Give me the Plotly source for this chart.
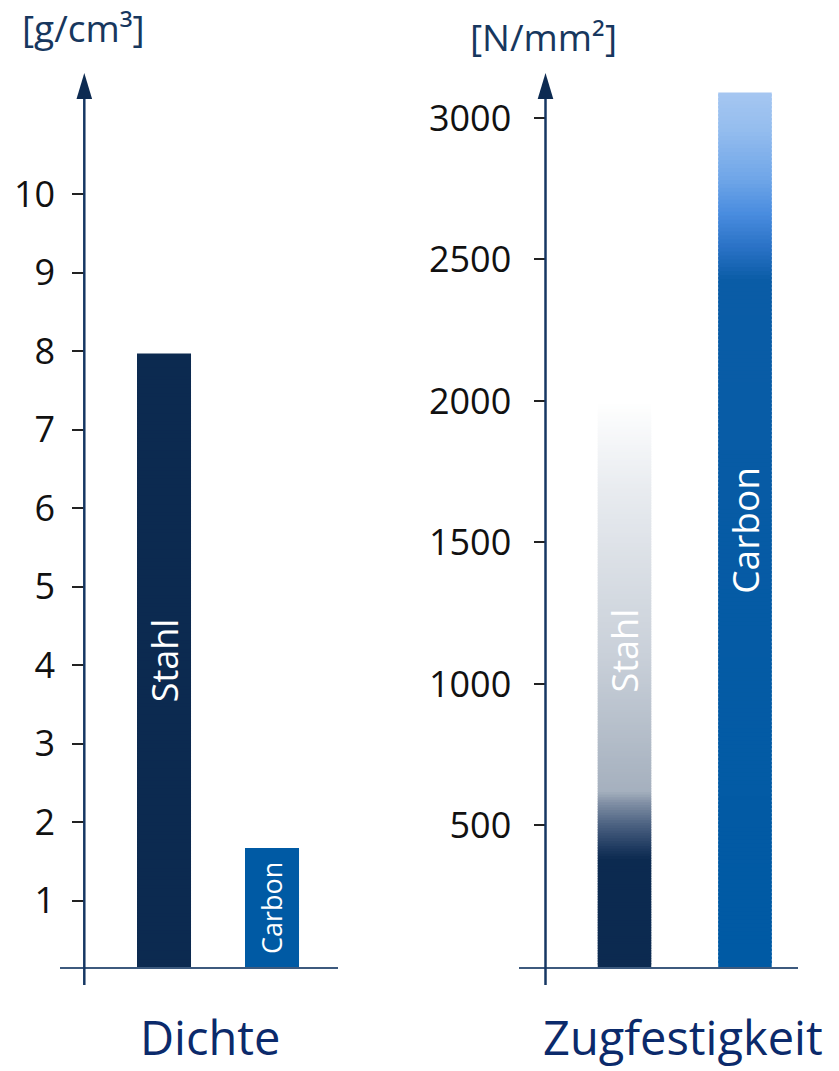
import plotly.graph_objects as go

W, H = 839, 1071

# ---- data ----
materials = ["Stahl", "Carbon"]
dichte_values = [7.97, 1.66]            # g/cm³
zug_values = [2000, 3090]               # N/mm²
dichte_ticks = [1, 2, 3, 4, 5, 6, 7, 8, 9, 10]
zug_ticks = [500, 1000, 1500, 2000, 2500, 3000]
unit_left = "[g/cm³]"
unit_right = "[N/mm²]"
title_left = "Dichte"
title_right = "Zugfestigkeit"

# ---- styles ----
NAVY = "#0c2a50"
BLUE = "#005aa4"
AXIS = "#163763"
FONT = "Open Sans"

# gradient stops (fraction of bar height, colour)
grad_left = [[(0, NAVY), (1, NAVY)], [(0, BLUE), (1, BLUE)]]
grad_right = [
    [(0.0, NAVY), (0.19, NAVY), (0.21, "#1e3a60"), (0.25, "#4a6080"),
     (0.29, "#8190a5"), (0.31, "#a5b0be"), (0.55, "#c9d0d9"),
     (0.85, "#e9ecf0"), (1.0, "#ffffff")],
    [(0.0, BLUE), (0.785, "#0a5ca6"), (0.823, "#2a72c6"), (0.862, "#4a8ddf"),
     (0.90, "#6ea5e8"), (0.957, "#94bdee"), (1.0, "#a6c7f1")],
]


def hex2rgb(h):
    h = h.lstrip("#")
    return tuple(int(h[i:i + 2], 16) for i in (0, 2, 4))


def color_at(stops, f):
    for (f0, c0), (f1, c1) in zip(stops[:-1], stops[1:]):
        if f0 <= f <= f1:
            t = 0 if f1 == f0 else (f - f0) / (f1 - f0)
            a, b = hex2rgb(c0), hex2rgb(c1)
            r = [round(a[i] + (b[i] - a[i]) * t) for i in range(3)]
            return "rgb(%d,%d,%d)" % tuple(r)
    return stops[-1][1]


def gradient_bar(cat, value, stops, width, xa, ya, n=220):
    step = value / n
    bases, heights, cols = [], [], []
    for i in range(n):
        b = i * step
        bases.append(b)
        heights.append(min(step * 1.6, value - b))
        cols.append(color_at(stops, (i + 0.5) / n))
    return go.Bar(x=[cat] * n, y=heights, base=bases, width=width,
                  marker=dict(color=cols, line=dict(width=0)),
                  xaxis=xa, yaxis=ya, showlegend=False, hoverinfo="skip")


fig = go.Figure()
for cat, v, st in zip(materials, dichte_values, grad_left):
    fig.add_trace(gradient_bar(cat, v, st, 0.5, "x", "y"))
for cat, v, st in zip(materials, zug_values, grad_right):
    fig.add_trace(gradient_bar(cat, v, st, 0.444, "x2", "y2"))

py = lambda p: 1 - p / H
px = lambda p: p / W

ydom = [py(967), py(80)]
left_range = [(979.2 - 967) / 78.5, (979.2 - 80) / 78.5]
right_range = [0, (967 - 80) / 0.28302]

tickfont = dict(family=FONT, size=36, color="#111111")
common_x = dict(type="category", showgrid=False, zeroline=False, showticklabels=False,
                ticks="", showline=True, linecolor="#3d5a7e", linewidth=2, fixedrange=True)
common_y = dict(showgrid=False, zeroline=False, showline=False, ticks="outside",
                ticklen=12, tickwidth=1.6, tickcolor="#222222", tickfont=tickfont,
                anchor="free", fixedrange=True)

fig.update_layout(
    width=W, height=H, margin=dict(l=0, r=0, t=0, b=0),
    paper_bgcolor="white", plot_bgcolor="white", barmode="overlay",
    showlegend=False, font=dict(family=FONT),
    xaxis=dict(domain=[px(60), px(338)], range=[-0.963, 1.611], anchor="y",
               categoryorder="array", categoryarray=materials, **common_x),
    xaxis2=dict(domain=[px(519), px(798)], range=[-0.8755, 1.440], anchor="y2",
                categoryorder="array", categoryarray=materials, **common_x),
    yaxis=dict(domain=ydom, range=left_range, position=px(84.3), ticklabelstandoff=10,
               tickvals=dichte_ticks, ticktext=[str(t) for t in dichte_ticks], **common_y),
    yaxis2=dict(domain=ydom, range=right_range, position=px(545.5), ticklabelstandoff=15,
                tickvals=zug_ticks, ticktext=[str(t) for t in zug_ticks], **common_y),
)

# axis lines with arrowheads
shapes = []
for ax_x in (84.3, 545.5):
    shapes.append(dict(type="line", xref="paper", yref="paper",
                       x0=px(ax_x), x1=px(ax_x), y0=py(985), y1=py(96),
                       line=dict(color=AXIS, width=2.5)))
    shapes.append(dict(type="path", xref="paper", yref="paper",
                       path="M %f,%f L %f,%f L %f,%f Z" % (px(ax_x - 7.8), py(99), px(ax_x), py(73),
                                                         px(ax_x + 7.8), py(99)),
                       fillcolor="#0d2b52", line=dict(width=0)))
fig.update_layout(shapes=shapes)

ann = []
# labels inside bars
label_pos_left = [0.5, 0.5]
label_pos_right = [0.56, 0.5]
label_size_left = [36, 27]
label_size_right = [36, 37]
for cat, v, f, s in zip(materials, dichte_values, label_pos_left, label_size_left):
    lo = left_range[0]
    ann.append(dict(x=cat, y=lo + (v - lo) * f, xref="x", yref="y", text=cat, textangle=-90,
                    showarrow=False, font=dict(family=FONT, size=s, color="white"),
                    xanchor="center", yanchor="middle"))
for cat, v, f, s in zip(materials, zug_values, label_pos_right, label_size_right):
    ann.append(dict(x=cat, y=v * f, xref="x2", yref="y2", text=cat, textangle=-90,
                    showarrow=False, font=dict(family=FONT, size=s, color="white"),
                    xanchor="center", yanchor="middle"))
# units
ann.append(dict(x=px(83), y=py(27), xref="paper", yref="paper", text=unit_left, showarrow=False,
                font=dict(family=FONT, size=37, color="#17375e"), xanchor="center", yanchor="middle"))
ann.append(dict(x=px(543), y=py(37), xref="paper", yref="paper", text=unit_right, showarrow=False,
                font=dict(family=FONT, size=37, color="#17375e"), xanchor="center", yanchor="middle"))
# titles
ann.append(dict(x=px(210), y=py(1070), xref="paper", yref="paper", text=title_left, showarrow=False,
                font=dict(family=FONT, size=47, color="#0b2a6b"), xanchor="center", yanchor="bottom",
                borderpad=0))
ann.append(dict(x=px(683), y=py(1070), xref="paper", yref="paper", text=title_right, showarrow=False,
                font=dict(family=FONT, size=47, color="#0b2a6b"), xanchor="center", yanchor="bottom",
                borderpad=0))
fig.update_layout(annotations=ann)

fig.write_html("out.html")
